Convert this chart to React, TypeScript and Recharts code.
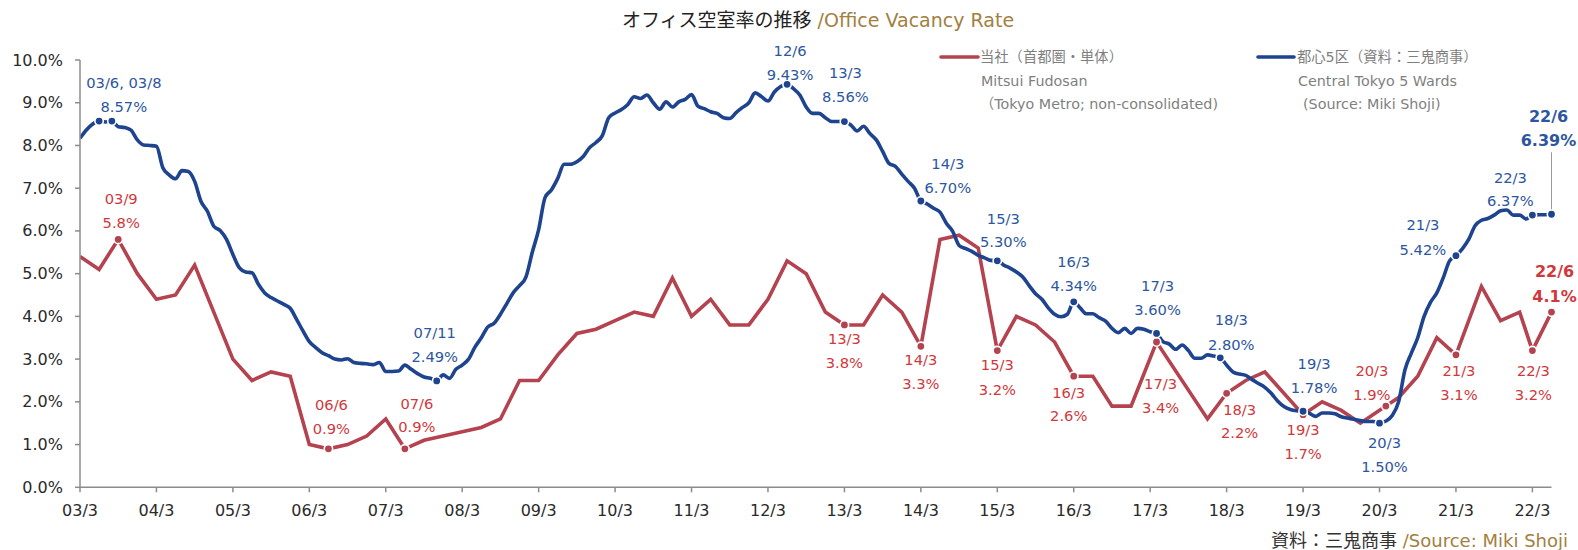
import React from 'react';
import { LineChart, Line, XAxis, YAxis, ReferenceDot } from 'recharts';

// ---------- DATA ----------
// month index 0 = 2003/3, monthly through 2022/6 (index 231)
const blueVacancy: number[] = [
  8.17, 8.36, 8.5, 8.57, 8.55, 8.57, 8.44, 8.42, 8.36, 8.13, 8.01, 8.0,
  7.98, 7.48, 7.31, 7.22, 7.41, 7.39, 7.16, 6.69, 6.46, 6.11, 6.01, 5.8,
  5.45, 5.14, 5.04, 5.02, 4.75, 4.55, 4.44, 4.36, 4.28, 4.19, 3.93, 3.66,
  3.41, 3.27, 3.15, 3.08, 3.0, 2.98, 3.01, 2.92, 2.9, 2.89, 2.87, 2.92,
  2.71, 2.71, 2.72, 2.86, 2.76, 2.66, 2.58, 2.55, 2.49, 2.63, 2.55, 2.76,
  2.86, 3.0, 3.28, 3.5, 3.75, 3.84, 4.05, 4.3, 4.55, 4.72, 4.92, 5.5,
  6.03, 6.78, 6.96, 7.23, 7.56, 7.56, 7.62, 7.74, 7.95, 8.07, 8.23, 8.65,
  8.76, 8.84, 8.96, 9.14, 9.1, 9.18, 9.0, 8.85, 9.02, 8.9, 9.02, 9.08,
  9.19, 8.92, 8.86, 8.79, 8.75, 8.65, 8.63, 8.77, 8.89, 9.0, 9.23, 9.14,
  9.04, 9.25, 9.38, 9.43, 9.33, 9.18, 8.9, 8.75, 8.75, 8.65, 8.56, 8.56,
  8.56, 8.48, 8.34, 8.45, 8.28, 8.13, 7.86, 7.58, 7.51, 7.33, 7.16, 7.0,
  6.7, 6.63, 6.53, 6.44, 6.18, 5.99, 5.66, 5.59, 5.52, 5.43, 5.37, 5.31,
  5.3, 5.2, 5.13, 5.04, 4.92, 4.72, 4.53, 4.4, 4.2, 4.05, 3.99, 4.05,
  4.34, 4.2, 4.06, 4.06, 3.97, 3.89, 3.72, 3.62, 3.72, 3.6, 3.72, 3.7,
  3.64, 3.6, 3.41, 3.35, 3.23, 3.33, 3.2, 3.02, 3.02, 3.1, 3.07, 3.03,
  2.86, 2.7, 2.65, 2.62, 2.52, 2.43, 2.34, 2.2, 2.02, 1.89, 1.82, 1.79,
  1.78, 1.73, 1.66, 1.74, 1.74, 1.72, 1.65, 1.62, 1.59, 1.56, 1.54, 1.54,
  1.5, 1.55, 1.68, 2.0, 2.75, 3.14, 3.5, 4.0, 4.33, 4.55, 4.9, 5.3,
  5.42, 5.58, 5.8, 6.12, 6.25, 6.29, 6.37, 6.47, 6.49, 6.37, 6.37, 6.28,
  6.37, 6.38, 6.38, 6.39,
];

const redMonths: number[] = [
  0, 3, 6, 9, 12, 15, 18, 24, 27, 30, 33, 36, 39, 42, 45, 48,
  51, 54, 57, 60, 63, 66, 69, 72, 75, 78, 81, 84, 87, 90, 93, 96,
  99, 102, 105, 108, 111, 114, 117, 120, 123, 126, 129, 132, 135, 138, 141, 144,
  147, 150, 153, 156, 159, 162, 165, 169, 177, 180, 183, 186, 192, 195, 198, 201,
  205, 207, 210, 213, 216, 220, 223, 226, 228, 231,
];
const redVacancy: number[] = [
  5.4, 5.1, 5.8, 5.0, 4.4, 4.5, 5.2, 3.0, 2.5, 2.7, 2.6, 1.0, 0.9, 1.0, 1.2, 1.6,
  0.9, 1.1, 1.2, 1.3, 1.4, 1.6, 2.5, 2.5, 3.1, 3.6, 3.7, 3.9, 4.1, 4.0, 4.9, 4.0,
  4.4, 3.8, 3.8, 4.4, 5.3, 5.0, 4.1, 3.8, 3.8, 4.5, 4.1, 3.3, 5.8, 5.9, 5.6, 3.2,
  4.0, 3.8, 3.4, 2.6, 2.6, 1.9, 1.9, 3.4, 1.6, 2.2, 2.5, 2.7, 1.7, 2.0, 1.8, 1.5,
  1.9, 2.1, 2.6, 3.5, 3.1, 4.7, 3.9, 4.1, 3.2, 4.1,
];

const xTickLabels: string[] = [
  '03/3', '04/3', '05/3', '06/3', '07/3', '08/3', '09/3', '10/3', '11/3', '12/3',
  '13/3', '14/3', '15/3', '16/3', '17/3', '18/3', '19/3', '20/3', '21/3', '22/3',
];
const yTicks: number[] = [0, 1, 2, 3, 4, 5, 6, 7, 8, 9, 10];

// annotated points (month index + label texts)
const blueMarkMonths: number[] = [3, 5, 56, 111, 120, 132, 144, 156, 169, 179, 192, 204, 216, 228, 231];
const blueMarkTitles: string[] = ['', '03/6, 03/8', '07/11', '12/6', '13/3', '14/3', '15/3', '16/3', '17/3', '18/3', '19/3', '20/3', '21/3', '22/3', '22/6'];
const blueMarkValues: string[] = ['', '8.57%', '2.49%', '9.43%', '8.56%', '6.70%', '5.30%', '4.34%', '3.60%', '2.80%', '1.78%', '1.50%', '5.42%', '6.37%', '6.39%'];

const redMarkMonths: number[] = [6, 39, 51, 120, 132, 144, 156, 169, 180, 192, 205, 216, 228, 231];
const redMarkTitles: string[] = ['03/9', '06/6', '07/6', '13/3', '14/3', '15/3', '16/3', '17/3', '18/3', '19/3', '20/3', '21/3', '22/3', '22/6'];
const redMarkValues: string[] = ['5.8%', '0.9%', '0.9%', '3.8%', '3.3%', '3.2%', '2.6%', '3.4%', '2.2%', '1.7%', '1.9%', '3.1%', '3.2%', '4.1%'];

// ---------- LAYOUT / STYLE (label placement offsets, px) ----------
const blueOffsets: [number, number, number][] = [
  [0, 0, 0], [12, -39, -15], [-2, -48, -24], [3, -34, -10], [1, -49, -25], [27, -38, -14],
  [6, -42, -19], [0, -40, -16], [1, -48, -24], [11, -38, -13], [11, -48, -24], [5, 19, 43],
  [-33, -31, -6], [-22, -38, -15], [-3, -98, -74],
];
const redOffsets: [number, number, number][] = [
  [3, -41, -17], [3, -44, -20], [12, -45, -22], [0, 14, 38], [0, 13, 37], [0, 14, 39],
  [-5, 16, 39], [4, 41, 65], [13, 16, 39], [0, 15, 39], [-14, -36, -12], [3, 16, 40],
  [1, 20, 44], [3, -41, -16],
];

const FONT = "'DejaVu Sans', Verdana, 'Noto Sans CJK JP', sans-serif";
const BLUE = '#1E448F';
const BLUE_TEXT = '#2D56A0';
const RED = '#B4424F';
const RED_TEXT = '#D0383C';
const GOLD = '#A2803F';
const AXIS = '#8c8c8c';

const blueData = blueVacancy.map((v, i) => ({ m: i, blue: v }));
const redData = redMonths.map((m, i) => ({ m, red: redVacancy[i] }));
const xTicks = xTickLabels.map((_, i) => i * 12);

const XTick = (props: any) => {
  const { x, y, payload } = props;
  const idx = Math.round(payload.value / 12);
  return (
    <text x={x} y={y + 16} textAnchor="middle" dominantBaseline="central" fontFamily={FONT} fontSize={16} fill="#2a2a2a">
      {xTickLabels[idx]}
    </text>
  );
};

const YTick = (props: any) => {
  const { x, y, payload } = props;
  return (
    <text x={x - 10} y={y} textAnchor="end" dominantBaseline="central" fontFamily={FONT} fontSize={16} fill="#2a2a2a">
      {Number(payload.value).toFixed(1) + '%'}
    </text>
  );
};

const makeShape = (
  title: string,
  value: string,
  off: [number, number, number],
  dotColor: string,
  textColor: string,
  bold: boolean,
  leader: boolean,
) => (props: any) => {
  const { cx, cy } = props;
  if (cx == null || cy == null) return <g />;
  const fs = bold ? 16 : 14.7;
  const fw = bold ? 'bold' : 'normal';
  return (
    <g>
      {leader && <line x1={cx} y1={cy + off[2] + 12} x2={cx} y2={cy - 4} stroke="#9a9a9a" strokeWidth={1} />}
      <circle cx={cx} cy={cy} r={4.2} fill={dotColor} stroke="#fff" strokeWidth={1.6} />
      {title && (
        <text x={cx + off[0]} y={cy + off[1]} textAnchor="middle" dominantBaseline="central" fontFamily={FONT} fontSize={fs} fontWeight={fw} fill={textColor}>
          {title}
        </text>
      )}
      {value && (
        <text x={cx + off[0]} y={cy + off[2]} textAnchor="middle" dominantBaseline="central" fontFamily={FONT} fontSize={fs} fontWeight={fw} fill={textColor}>
          {value}
        </text>
      )}
    </g>
  );
};

export default function App() {
  return (
    <div style={{ position: 'absolute', left: 0, top: 0, width: 1578, height: 550, background: '#fff' }}>
      <LineChart
        width={1578}
        height={550}
        data={blueData}
        margin={{ top: 60, right: 26.5, bottom: 32.7, left: 0 }}
      >
        <XAxis
          dataKey="m"
          type="number"
          domain={[0, 231]}
          ticks={xTicks}
          interval={0}
          tick={<XTick />}
          tickSize={5}
          height={30}
          axisLine={{ stroke: AXIS, strokeWidth: 1.5 }}
          tickLine={{ stroke: AXIS, strokeWidth: 1.5 }}
          allowDataOverflow
        />
        <YAxis
          type="number"
          domain={[0, 10]}
          ticks={yTicks}
          interval={0}
          tick={<YTick />}
          tickSize={5}
          width={80}
          axisLine={{ stroke: AXIS, strokeWidth: 1.5 }}
          tickLine={{ stroke: AXIS, strokeWidth: 1.5 }}
          allowDataOverflow
        />
        <Line
          data={redData}
          dataKey="red"
          type="linear"
          stroke={RED}
          strokeWidth={3.6}
          dot={false}
          activeDot={false}
          isAnimationActive={false}
        />
        <Line
          dataKey="blue"
          type="monotone"
          stroke={BLUE}
          strokeWidth={3.6}
          dot={false}
          activeDot={false}
          isAnimationActive={false}
        />
        {redMarkMonths.map((m, i) => (
          <ReferenceDot
            key={'r' + i}
            x={m}
            y={redVacancy[redMonths.indexOf(m)]}
            r={4}
            shape={makeShape(redMarkTitles[i], redMarkValues[i], redOffsets[i], RED, RED_TEXT, m === 231, false)}
          />
        ))}
        {blueMarkMonths.map((m, i) => (
          <ReferenceDot
            key={'b' + i}
            x={m}
            y={blueVacancy[m]}
            r={4}
            shape={makeShape(blueMarkTitles[i], blueMarkValues[i], blueOffsets[i], BLUE, BLUE_TEXT, m === 231, m === 231)}
          />
        ))}
      </LineChart>
      <svg width={1578} height={550} style={{ position: 'absolute', left: 0, top: 0, pointerEvents: 'none' }}>
        <text x={818} y={20} textAnchor="middle" dominantBaseline="central" fontFamily={FONT} fontSize={19}>
          <tspan fill="#222">オフィス空室率の推移 </tspan>
          <tspan fill={GOLD}>/Office Vacancy Rate</tspan>
        </text>
        <line x1={941} y1={57} x2={978} y2={57} stroke={RED} strokeWidth={3.6} strokeLinecap="round" />
        <text x={980} y={57} dominantBaseline="central" fontFamily={FONT} fontSize={14.3} fill="#7f7f7f">当社（首都圏・単体）</text>
        <text x={981} y={81} dominantBaseline="central" fontFamily={FONT} fontSize={14.3} fill="#7f7f7f">Mitsui Fudosan</text>
        <text x={980} y={104} dominantBaseline="central" fontFamily={FONT} fontSize={14.3} fill="#7f7f7f">（Tokyo Metro; non-consolidated)</text>
        <line x1={1258} y1={57} x2={1294} y2={57} stroke={BLUE} strokeWidth={3.6} strokeLinecap="round" />
        <text x={1297} y={57} dominantBaseline="central" fontFamily={FONT} fontSize={14.3} fill="#7f7f7f">都心5区（資料：三鬼商事）</text>
        <text x={1298} y={81} dominantBaseline="central" fontFamily={FONT} fontSize={14.3} fill="#7f7f7f">Central Tokyo 5 Wards</text>
        <text x={1303} y={104} dominantBaseline="central" fontFamily={FONT} fontSize={14.3} fill="#7f7f7f">(Source: Miki Shoji)</text>
        <text x={1568} y={540} textAnchor="end" dominantBaseline="central" fontFamily={FONT} fontSize={18}>
          <tspan fill="#333">資料：三鬼商事 </tspan>
          <tspan fill={GOLD}>/Source: Miki Shoji</tspan>
        </text>
      </svg>
    </div>
  );
}
